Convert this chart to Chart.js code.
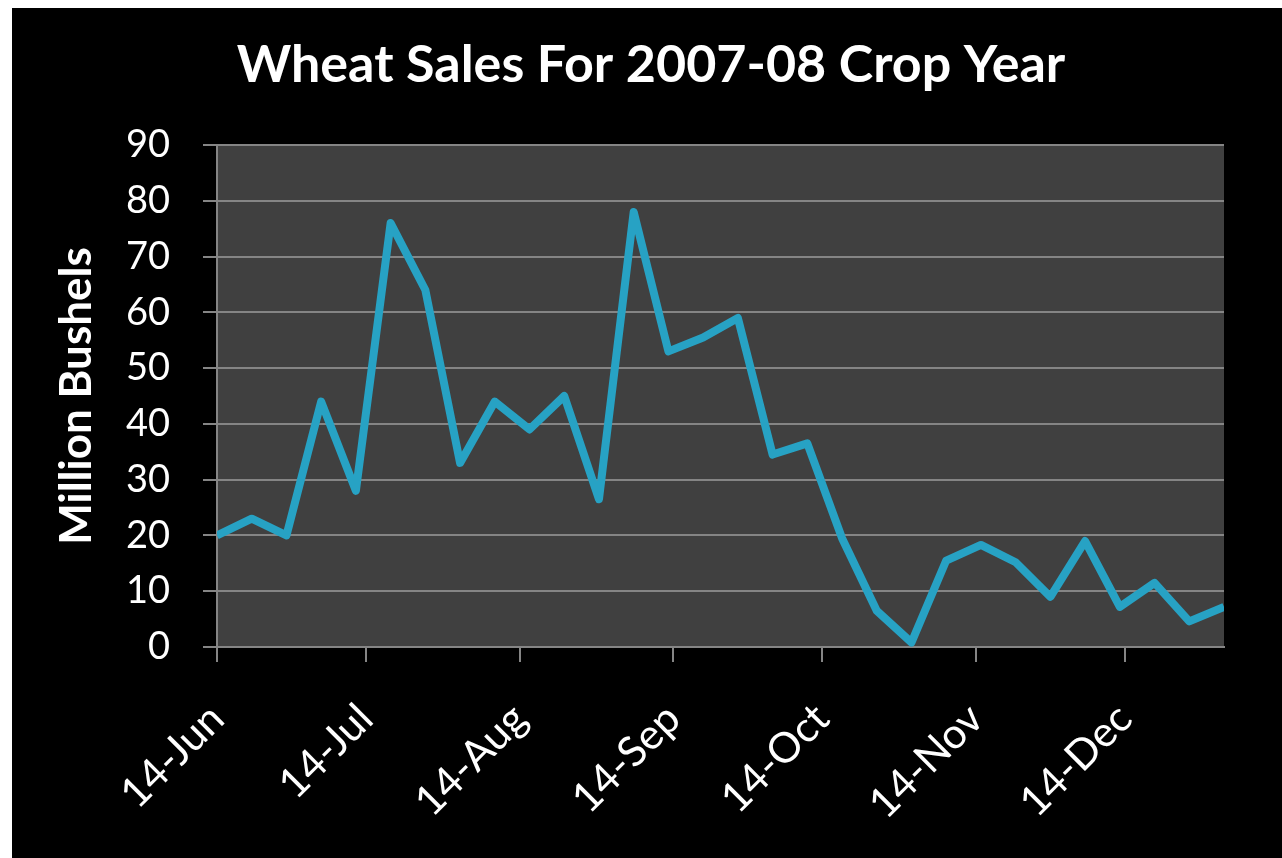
<!DOCTYPE html>
<html>
<head>
<meta charset="utf-8">
<title>Wheat Sales For 2007-08 Crop Year</title>
<script src="https://cdn.jsdelivr.net/npm/chart.js@4"></script>
<style>
  body { margin: 0; background: #fff; }
  #box { position: absolute; left: 12px; top: 8px; width: 1270px; height: 850px; }
</style>
</head>
<body>
<div id="box"><canvas id="grafico"></canvas></div>
<script>
// weekly sales, million bushels
const settimane = [
  "2007-06-14", "2007-06-21", "2007-06-28", "2007-07-05", "2007-07-12",
  "2007-07-19", "2007-07-26", "2007-08-02", "2007-08-09", "2007-08-16",
  "2007-08-23", "2007-08-30", "2007-09-06", "2007-09-13", "2007-09-20",
  "2007-09-27", "2007-10-04", "2007-10-11", "2007-10-18", "2007-10-25",
  "2007-11-01", "2007-11-08", "2007-11-15", "2007-11-22", "2007-11-29",
  "2007-12-06", "2007-12-13", "2007-12-20", "2007-12-27", "2008-01-03"
];
const vendite = [
  20, 23, 20, 44, 28, 76, 64, 33, 44, 39,
  45, 26.5, 78, 53, 55.5, 59, 34.5, 36.5, 19.5, 6.5,
  0.8, 15.5, 18.3, 15.2, 9, 19, 7.2, 11.5, 4.6, 7.2
];
const tickDate = ["2007-06-14", "2007-07-14", "2007-08-14", "2007-09-14", "2007-10-14", "2007-11-14", "2007-12-14"];
const tickEtichette = ["14-Jun", "14-Jul", "14-Aug", "14-Sep", "14-Oct", "14-Nov", "14-Dec"];

const inizio = Date.parse(settimane[0]);
const giorni = d => (Date.parse(d) - inizio) / 86400000;

const punti = settimane.map((d, i) => ({ x: giorni(d), y: vendite[i] }));
const tickGiorni = tickDate.map(giorni);

const grigio = "#858585";

// sfondo nero + area grafico grigio scuro
const sfondo = {
  id: "sfondo",
  beforeDraw(chart) {
    const { ctx, chartArea: a } = chart;
    ctx.save();
    ctx.fillStyle = "#000";
    ctx.fillRect(0, 0, chart.width, chart.height);
    ctx.fillStyle = "#404040";
    ctx.fillRect(a.left, a.top, a.right - a.left, a.bottom - a.top);
    ctx.restore();
  }
};

new Chart(document.getElementById("grafico"), {
  type: "line",
  data: {
    datasets: [{
      label: "Vendite",
      data: punti,
      borderColor: "#27a2c4",
      borderWidth: 8,
      borderJoinStyle: "round",
      pointRadius: 0,
      tension: 0
    }]
  },
  options: {
    responsive: true,
    maintainAspectRatio: false,
    animation: false,
    layout: { padding: { top: 6, right: 58, left: 66, bottom: 0 } },
    plugins: {
      legend: { display: false },
      tooltip: { enabled: false },
      title: {
        display: true,
        text: "Wheat Sales For 2007-08 Crop Year",
        color: "#fff",
        font: { family: "Lato", size: 52, weight: "bold" },
        padding: { top: 20, bottom: 48.6 }
      }
    },
    scales: {
      x: {
        type: "linear",
        min: 0,
        max: giorni(settimane[settimane.length - 1]),
        afterBuildTicks: s => { s.ticks = tickGiorni.map(v => ({ value: v })); },
        afterFit: s => { s.height = 211; },
        grid: { drawOnChartArea: false, drawTicks: true, tickLength: 15, color: grigio, lineWidth: 2 },
        border: { display: true, color: grigio, width: 2 },
        ticks: {
          color: "#fff",
          font: { family: "Lato", size: 42 },
          minRotation: 45,
          maxRotation: 45,
          padding: 32,
          autoSkip: false,
          callback: (v, i) => tickEtichette[i]
        }
      },
      y: {
        min: 0,
        max: 90,
        afterFit: s => { s.width = 139; },
        grid: { color: grigio, lineWidth: 2, tickLength: 14 },
        border: { display: true, color: grigio, width: 2 },
        ticks: {
          stepSize: 10,
          color: "#fff",
          font: { family: "Lato", size: 38 },
          padding: 33
        },
        title: {
          display: true,
          text: "Million Bushels",
          color: "#fff",
          font: { family: "Lato", size: 44, weight: "bold" },
          padding: { top: -27.4, bottom: 0 }
        }
      }
    }
  },
  plugins: [sfondo]
});
</script>
</body>
</html>
